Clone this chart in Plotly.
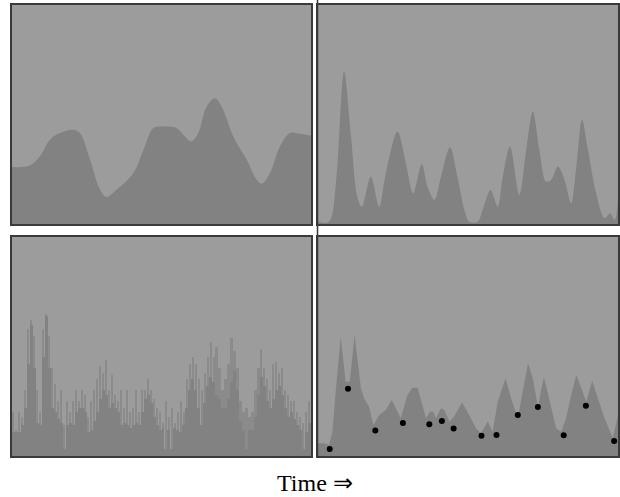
import plotly.graph_objects as go

# ---------------- data ----------------
# Panel 1 (top-left): smooth signal
p1_x = [0, 6, 9.4, 12.7, 16, 20.5, 22.7, 26.1, 29.4, 31.6, 35, 40.6, 44, 47.3, 50.6, 55,
        57.8, 60, 62.3, 65.1, 67.9, 70.1, 74, 78.5, 81.8, 83.5, 86.3, 89.6, 93, 96.3, 100]
p1_y = [0.26, 0.267, 0.31, 0.385, 0.415, 0.43, 0.415, 0.293, 0.157, 0.123, 0.157, 0.233,
        0.339, 0.438, 0.445, 0.438, 0.40, 0.377, 0.415, 0.536, 0.574, 0.536, 0.40, 0.293,
        0.202, 0.184, 0.233, 0.354, 0.415, 0.412, 0.403]

# Panel 2 (top-right): peaky signal
p2_x = [0, 3.7, 6, 8.7, 10.9, 13.1, 14.6, 17.6, 20.4, 22.6, 26.5, 29.3, 31.7, 34.6, 36.5,
        38.8, 41, 44, 46.5, 48.8, 50.4, 53.2, 54.9, 57.5, 59.9, 61.6, 64, 67.1, 69.4, 71.6,
        73.8, 76, 77.7, 80, 82.2, 84.4, 86.1, 88, 90, 92.7, 95.5, 97.4, 98.9, 100]
p2_y = [0.01, 0.01, 0.186, 0.697, 0.415, 0.125, 0.079, 0.216, 0.079, 0.232, 0.422, 0.277,
        0.14, 0.274, 0.171, 0.11, 0.216, 0.351, 0.216, 0.064, 0.01, 0.01, 0.064, 0.155,
        0.079, 0.216, 0.354, 0.133, 0.338, 0.514, 0.338, 0.194, 0.201, 0.262, 0.201, 0.095,
        0.262, 0.476, 0.338, 0.14, 0.026, 0.049, 0.018, 0.11]

# Panel 3 (bottom-left): noisy binned signal, 100 bins
p3_level = [0.11, 0.11, 0.11, 0.14, 0.22, 0.42, 0.60, 0.40, 0.15, 0.14,
            0.45, 0.64, 0.40, 0.22, 0.20, 0.17, 0.15, 0.03, 0.14, 0.15,
            0.14, 0.20, 0.22, 0.22, 0.20, 0.11, 0.12, 0.16, 0.20, 0.26,
            0.30, 0.28, 0.22, 0.24, 0.22, 0.20, 0.14, 0.15, 0.14, 0.13,
            0.14, 0.15, 0.14, 0.20, 0.26, 0.28, 0.24, 0.18, 0.14, 0.12,
            0.13, 0.03, 0.12, 0.03, 0.13, 0.12, 0.11, 0.14, 0.22, 0.30,
            0.35, 0.30, 0.22, 0.14, 0.24, 0.32, 0.36, 0.34, 0.28, 0.26,
            0.22, 0.22, 0.26, 0.34, 0.39, 0.30, 0.16, 0.12, 0.03, 0.12,
            0.12, 0.18, 0.28, 0.36, 0.32, 0.25, 0.22, 0.26, 0.30, 0.32,
            0.28, 0.22, 0.18, 0.20, 0.17, 0.14, 0.12, 0.03, 0.11, 0.15]
p3_spike = [0.20, 0.12, 0.20, 0.18, 0.30, 0.58, 0.62, 0.55, 0.30, 0.20,
            0.58, 0.65, 0.55, 0.40, 0.33, 0.25, 0.30, 0.14, 0.25, 0.20,
            0.25, 0.30, 0.25, 0.30, 0.28, 0.18, 0.25, 0.30, 0.35, 0.41,
            0.38, 0.44, 0.30, 0.37, 0.28, 0.25, 0.30, 0.22, 0.30, 0.20,
            0.22, 0.30, 0.20, 0.30, 0.30, 0.35, 0.30, 0.26, 0.22, 0.20,
            0.15, 0.25, 0.18, 0.22, 0.15, 0.20, 0.25, 0.20, 0.35, 0.42,
            0.45, 0.42, 0.35, 0.30, 0.38, 0.45, 0.52, 0.45, 0.50, 0.40,
            0.30, 0.35, 0.42, 0.54, 0.48, 0.40, 0.25, 0.20, 0.22, 0.18,
            0.20, 0.30, 0.40, 0.49, 0.40, 0.35, 0.30, 0.42, 0.43, 0.38,
            0.40, 0.30, 0.28, 0.25, 0.25, 0.20, 0.18, 0.15, 0.20, 0.25]
p3_x = [i + 0.5 for i in range(len(p3_level))]

# Panel 4 (bottom-right): filled signal with sampled points
p4_x = [0, 2, 3.7, 4.8, 5.9, 7.6, 9.2, 10.6, 12.2, 14.3, 15.4, 17, 18.5, 20.4, 22.6, 24.6,
        26.5, 27.6, 29.8, 31.5, 33.2, 34.9, 36, 37.3, 38.4, 39.3, 41, 42.1, 43.8, 45.4, 48,
        50.4, 52.7, 54.3, 56.6, 58.2, 59.9, 62.5, 64.4, 66.6, 68.3, 70, 71.6, 73.3, 75.3,
        77.2, 79.4, 81.1, 82.7, 84.4, 86.1, 87.8, 89.4, 91.4, 93.3, 95.5, 98.3, 100]
p4_y = [0.058, 0.058, 0.05, 0.111, 0.294, 0.545, 0.339, 0.34, 0.553, 0.309, 0.263, 0.225,
        0.142, 0.187, 0.21, 0.256, 0.202, 0.172, 0.279, 0.312, 0.312, 0.233, 0.172, 0.202,
        0.202, 0.172, 0.218, 0.21, 0.157, 0.18, 0.245, 0.187, 0.126, 0.104, 0.157, 0.111,
        0.248, 0.355, 0.263, 0.172, 0.294, 0.423, 0.355, 0.225, 0.362, 0.248, 0.126, 0.111,
        0.172, 0.279, 0.37, 0.309, 0.248, 0.342, 0.263, 0.172, 0.081, 0.187]
dots_x = [3.9, 10.0, 19.1, 28.3, 37.1, 41.3, 45.2, 54.5, 59.5, 66.6, 73.3, 81.9, 89.3, 98.7]
dots_y = [0.032, 0.307, 0.116, 0.151, 0.145, 0.160, 0.126, 0.093, 0.096, 0.187, 0.224,
          0.095, 0.230, 0.069]

x_label = "Time \u21d2"

# ---------------- styling ----------------
BG = "#9c9c9c"
FILL = "#828282"
SPIKE = "#8b8b8b"
BORDER = "#3a3a3a"
W, H = 620, 497


def px_x(p):
    return p / W


def px_y(p):
    return 1 - p / H


fig = go.Figure()

fig.add_trace(go.Scatter(x=p1_x, y=p1_y, mode="lines", line=dict(shape="spline", width=0, color=FILL, smoothing=1.0),
                         fill="tozeroy", fillcolor=FILL, xaxis="x", yaxis="y", hoverinfo="skip"))
fig.add_trace(go.Scatter(x=p2_x, y=p2_y, mode="lines", line=dict(shape="spline", width=0, color=FILL, smoothing=0.9),
                         fill="tozeroy", fillcolor=FILL, xaxis="x2", yaxis="y2", hoverinfo="skip"))
fig.add_trace(go.Bar(x=p3_x, y=p3_spike, width=0.55, marker=dict(color=SPIKE, line=dict(width=0)),
                     xaxis="x3", yaxis="y3", hoverinfo="skip"))
fig.add_trace(go.Bar(x=p3_x, y=p3_level, width=1.0, marker=dict(color=FILL, line=dict(width=0)),
                     xaxis="x3", yaxis="y3", hoverinfo="skip"))
fig.add_trace(go.Scatter(x=p4_x, y=p4_y, mode="lines", line=dict(width=0, color=FILL),
                         fill="tozeroy", fillcolor=FILL, xaxis="x4", yaxis="y4", hoverinfo="skip"))
fig.add_trace(go.Scatter(x=dots_x, y=dots_y, mode="markers", marker=dict(color="black", size=6),
                         xaxis="x4", yaxis="y4", hoverinfo="skip"))

ax_common = dict(showgrid=False, zeroline=False, showticklabels=False, ticks="",
                 showline=True, mirror=True, linecolor=BORDER, linewidth=1.5)

left = [px_x(12), px_x(311)]
right = [px_x(318), px_x(618)]
top = [px_y(224), px_y(5)]
bottom = [px_y(456), px_y(237)]

fig.update_layout(
    width=W, height=H,
    margin=dict(l=0, r=0, t=0, b=0),
    paper_bgcolor="white",
    plot_bgcolor=BG,
    showlegend=False,
    barmode="overlay",
    bargap=0,
    xaxis=dict(domain=left, range=[0, 100], anchor="y", **ax_common),
    yaxis=dict(domain=top, range=[0, 1], anchor="x", **ax_common),
    xaxis2=dict(domain=right, range=[0, 100], anchor="y2", **ax_common),
    yaxis2=dict(domain=top, range=[0, 1], anchor="x2", **ax_common),
    xaxis3=dict(domain=left, range=[0, 100], anchor="y3", **ax_common),
    yaxis3=dict(domain=bottom, range=[0, 1], anchor="x3", **ax_common),
    xaxis4=dict(domain=right, range=[0, 100], anchor="y4", **ax_common),
    yaxis4=dict(domain=bottom, range=[0, 1], anchor="x4", **ax_common),
    shapes=[dict(type="line", xref="paper", yref="paper", x0=px_x(317.5), x1=px_x(317.5),
                 y0=px_y(456), y1=1, line=dict(color=BORDER, width=1.5))],
    annotations=[dict(text=x_label, xref="paper", yref="paper", x=0.508, y=px_y(483),
                      xanchor="center", yanchor="middle", showarrow=False,
                      font=dict(family="Liberation Serif, Times New Roman, serif", size=24, color="black"))],
)

fig.write_html("out.html", config={"displayModeBar": False},
               post_script="document.body.style.margin='0';document.body.style.padding='0';"
                           "document.body.style.overflow='hidden';")
